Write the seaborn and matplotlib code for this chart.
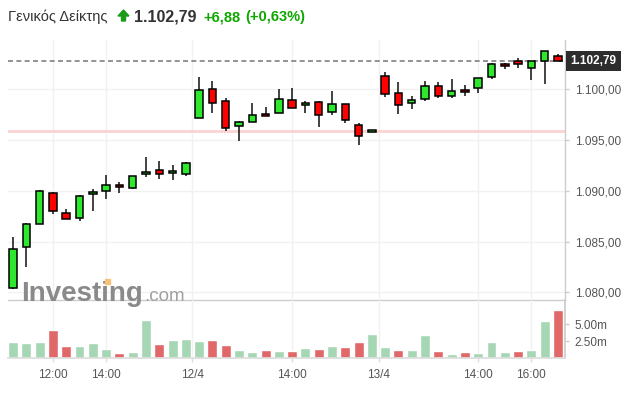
import numpy as np
import pandas as pd
import matplotlib
matplotlib.use('Agg')
import matplotlib.pyplot as plt
import matplotlib.transforms as mtransforms
from matplotlib.patches import Polygon, Rectangle
import seaborn as sns

# candle data (30 min bars, three sessions)
opens = [1080.41, 1084.45, 1086.71, 1089.79, 1087.80, 1087.30, 1089.67, 1089.96, 1090.58, 1090.26,
         1091.63, 1092.03, 1091.73, 1091.63, 1097.15, 1100.00, 1098.82, 1096.36, 1096.75, 1097.54,
         1097.64, 1098.92, 1098.43, 1098.72, 1097.74, 1098.52, 1096.46, 1095.80, 1101.31, 1099.61,
         1098.62, 1099.02, 1100.30, 1099.31, 1099.90, 1100.10, 1101.18, 1102.46, 1102.76, 1102.07,
         1102.76, 1103.28]
highs = [1085.43, 1086.84, 1090.06, 1089.92, 1088.19, 1089.57, 1090.19, 1091.56, 1090.88, 1091.50,
         1093.31, 1092.91, 1092.52, 1092.84, 1101.18, 1100.79, 1099.11, 1096.88, 1098.62, 1098.23,
         1100.00, 1100.10, 1098.85, 1098.82, 1099.80, 1098.52, 1096.68, 1096.00, 1101.70, 1100.69,
         1099.31, 1100.79, 1100.69, 1100.98, 1100.39, 1101.10, 1102.56, 1102.59, 1103.05, 1102.80,
         1103.80, 1103.44]
lows = [1080.30, 1082.48, 1086.71, 1087.73, 1087.20, 1087.01, 1087.99, 1089.17, 1089.76, 1090.20,
        1091.40, 1091.17, 1091.07, 1091.47, 1097.15, 1097.64, 1095.93, 1094.88, 1096.75, 1097.34,
        1097.62, 1098.19, 1097.70, 1096.32, 1097.44, 1096.65, 1094.49, 1095.80, 1099.21, 1097.60,
        1098.03, 1098.88, 1099.17, 1099.14, 1099.31, 1099.61, 1100.98, 1101.97, 1102.07, 1100.89,
        1100.49, 1102.79]
closes = [1084.25, 1086.71, 1089.99, 1087.99, 1087.20, 1089.47, 1089.86, 1090.58, 1090.35, 1091.47,
          1091.86, 1091.63, 1091.93, 1092.72, 1099.90, 1098.62, 1096.16, 1096.75, 1097.44, 1097.34,
          1099.02, 1098.19, 1098.65, 1097.44, 1098.52, 1096.95, 1095.37, 1095.96, 1099.51, 1098.43,
          1098.92, 1100.30, 1099.31, 1099.80, 1099.70, 1101.08, 1102.46, 1102.26, 1102.46, 1102.76,
          1103.74, 1102.79]
volumes = [2.31, 2.16, 2.31, 4.07, 1.72, 1.72, 2.16, 1.28, 0.69, 0.84,
           5.54, 2.06, 2.60, 2.75, 2.46, 2.60, 1.91, 1.13, 0.84, 1.13,
           0.98, 0.98, 1.43, 1.28, 1.72, 1.57, 2.31, 3.48, 1.57, 1.13,
           1.13, 3.33, 0.98, 0.54, 0.84, 0.69, 2.31, 0.84, 0.98, 1.13,
           5.39, 7.01]
vol_dir = ['up', 'up', 'up', 'dn', 'dn', 'up', 'up', 'up', 'dn', 'up',
           'up', 'dn', 'up', 'up', 'up', 'dn', 'dn', 'up', 'up', 'dn',
           'up', 'dn', 'up', 'dn', 'up', 'dn', 'dn', 'up', 'up', 'dn',
           'up', 'up', 'dn', 'up', 'dn', 'up', 'up', 'up', 'dn', 'up',
           'up', 'dn']
tick_pos = [3, 7, 13.5, 21, 27.5, 35, 39]
tick_labels = ['12:00', '14:00', '12/4', '14:00', '13/4', '14:00', '16:00']
price_ticks = [1080, 1085, 1090, 1095, 1100]
vol_ticks = [2.5, 5.0]
last_price = 1102.79
prev_close = 1095.91

sns.set_theme(style='white')
plt.rcParams['font.family'] = ['Liberation Sans', 'DejaVu Sans']

W, H = 632, 397
fig = plt.figure(figsize=(W / 100, H / 100), dpi=100)
fig.patch.set_facecolor('white')

def fx(px):
    return px / W

def fy(py):
    return 1 - py / H

ax = fig.add_axes([fx(8), fy(300), fx(557), 260 / H])
axv = fig.add_axes([fx(8), fy(358), fx(557), 58 / H])

df = pd.DataFrame({'i': np.arange(len(opens)), 'o': opens, 'h': highs, 'l': lows, 'c': closes,
                   'v': volumes, 'dir': vol_dir})
df['bottom'] = df[['o', 'c']].min(axis=1)
df['height'] = (df['c'] - df['o']).abs()
body_col = np.where(df['c'] >= df['o'], '#2ee82e', '#ff0000')

grid_col = '#f1f1f1'
for a in (ax, axv):
    for t in tick_pos:
        a.axvline(t, color=grid_col, lw=1, zorder=0)
for p in price_ticks:
    ax.axhline(p, color=grid_col, lw=1, zorder=0)

# watermark
fig.text(fx(21), fy(301), 'Investing', fontsize=20, fontweight='bold', color='#8a8a8a',
         va='baseline', ha='left', zorder=0)
fig.text(fx(144), fy(301), '.com', fontsize=13.5, color='#a0a0a0', va='baseline', ha='left', zorder=0)
fig.add_artist(Rectangle((fx(105), fy(284)), fx(5), 5 / H, transform=fig.transFigure,
                         color='#f6c27a', zorder=1))

ax.axhline(prev_close, color='#fbd3d3', lw=2, zorder=1)
ax.axhline(last_price, color='#808080', lw=1.2, dashes=(3, 2), zorder=1)

ax.vlines(df['i'], df['l'], df['h'], color='#222222', lw=1.2, zorder=2)
ax.bar(df['i'], df['height'], bottom=df['bottom'], width=0.56, color=body_col,
       edgecolor='black', linewidth=1.1, zorder=3)

ax.set_xlim(-0.38, 41.53)
ax.set_ylim(1079.26, 1104.85)
ax.yaxis.tick_right()
ax.set_yticks(price_ticks)
ax.set_yticklabels(['1.%03d,00' % (p - 1000) for p in price_ticks])
ax.set_xticks([])
ax.tick_params(axis='y', right=True, length=3, width=1, color='#cccccc', labelcolor='#555555',
               labelsize=8.5, pad=4)
for s in ['top', 'left']:
    ax.spines[s].set_visible(False)
for s in ['right', 'bottom']:
    ax.spines[s].set_color('#cccccc')
    ax.spines[s].set_linewidth(1)
ax.set_facecolor('none')

trans = mtransforms.blended_transform_factory(ax.transAxes, ax.transData)
ax.text(1.01, last_price, '1.102,79', transform=trans, ha='left', va='center', fontsize=8.5,
        fontweight='bold', color='white', zorder=5, clip_on=False,
        bbox=dict(boxstyle='square,pad=0.35', fc='#2d2d2d', ec='none'))

# volume panel
sns.barplot(data=df, x='i', y='v', hue='dir', palette={'up': '#a6d7b4', 'dn': '#e06868'},
            native_scale=True, dodge=False, width=0.75, errorbar=None, saturation=1,
            legend=False, ax=axv, zorder=2)
axv.set_xlim(-0.38, 41.53)
axv.set_ylim(0, 8.53)
axv.yaxis.tick_right()
axv.set_yticks(vol_ticks)
axv.set_yticklabels(['2.50m', '5.00m'])
axv.set_xticks(tick_pos)
axv.set_xticklabels(tick_labels)
axv.set_xlabel('')
axv.set_ylabel('')
axv.tick_params(axis='y', right=True, length=3, width=1, color='#cccccc', labelcolor='#555555',
                labelsize=8.5, pad=4)
axv.tick_params(axis='x', bottom=True, length=3, width=1, color='#dddddd', labelcolor='#555555',
                labelsize=8.5, pad=5)
for s in ['top', 'left']:
    axv.spines[s].set_visible(False)
axv.spines['right'].set_color('#cccccc')
axv.spines['bottom'].set_color('#dddddd')
axv.set_facecolor('none')

# header
fig.text(fx(8), fy(21), 'Γενικός Δείκτης', fontsize=10.5, color='#333333', va='baseline', ha='left')
fig.add_artist(Polygon([(fx(118), fy(16)), (fx(123.5), fy(10)), (fx(129), fy(16)),
                        (fx(125.5), fy(16)), (fx(125.5), fy(21)), (fx(121.5), fy(21)),
                        (fx(121.5), fy(16))], closed=True, transform=fig.transFigure,
                       color='#1a9b1a'))
fig.text(fx(134), fy(21), '1.102,79', fontsize=11.5, fontweight='bold', color='#333333',
         va='baseline', ha='left')
fig.text(fx(203), fy(21), '+6,88', fontsize=10.5, fontweight='bold', color='#0ea600',
         va='baseline', ha='left')
fig.text(fx(245), fy(21), '(+0,63%)', fontsize=10.5, fontweight='bold', color='#0ea600',
         va='baseline', ha='left')

fig.savefig('out.png', dpi=100)
